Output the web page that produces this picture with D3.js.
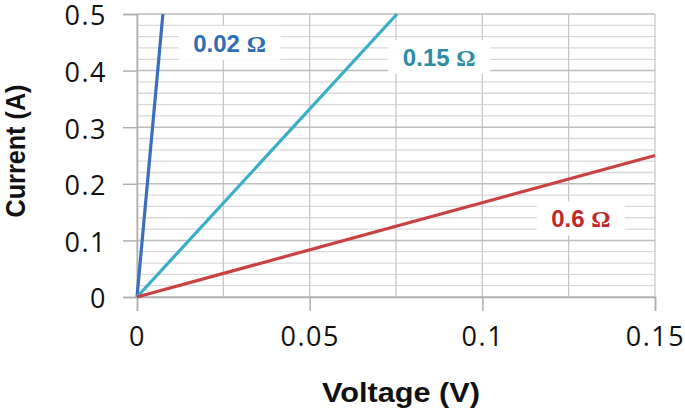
<!DOCTYPE html>
<html><head><meta charset="utf-8">
<script src="https://cdn.jsdelivr.net/npm/d3@7"></script>
<style>html,body{margin:0;padding:0;background:#fff;}svg{display:block;}</style>
</head><body>
<svg id="c" width="685" height="413"></svg>
<script>
const xTicks = [0, 0.05, 0.1, 0.15];
const xGrid = [0, 0.025, 0.05, 0.075, 0.1, 0.125, 0.15];
const yTicks = [0, 0.1, 0.2, 0.3, 0.4, 0.5];
const yMinor = [0.02,0.04,0.06,0.08,0.12,0.14,0.16,0.18,0.22,0.24,0.26,0.28,0.32,0.34,0.36,0.38,0.42,0.44,0.46,0.48];
const seriesNames = ["0.02 Ω", "0.15 Ω", "0.6 Ω"];
const voltage02 = [0, 0.0075];
const current02 = [0, 0.5];
const voltage15 = [0, 0.0753];
const current15 = [0, 0.5];
const voltage60 = [0, 0.15];
const current60 = [0, 0.25];
const labelPos = [[0.0268, 0.449], [0.0875, 0.424], [0.1285, 0.139]];
const colors = ["#3b6fbb", "#3aaec6", "#c94241"];
const labelColors = ["#2f6db4", "#2d8ea3", "#c0282a"];

const svg = d3.select("#c");
const x = d3.scaleLinear().domain([0, 0.15]).range([137, 655]);
const y = d3.scaleLinear().domain([0, 0.5]).range([297, 14]);
const tickFont = "'Open Sans', Lato, sans-serif";

// minor horizontal grid
svg.append("g").selectAll("line").data(yMinor).join("line")
  .attr("x1", x(0)).attr("x2", x(0.15))
  .attr("y1", d => y(d)).attr("y2", d => y(d))
  .attr("stroke", "#d9d9d9").attr("stroke-width", 1.3);
// vertical grid
svg.append("g").selectAll("line").data(xGrid).join("line")
  .attr("x1", d => x(d)).attr("x2", d => x(d))
  .attr("y1", y(0.5)).attr("y2", y(0))
  .attr("stroke", "#c8c8c8").attr("stroke-width", 1.3);
// major horizontal grid
svg.append("g").selectAll("line").data(yTicks).join("line")
  .attr("x1", x(0)).attr("x2", x(0.15))
  .attr("y1", d => y(d)).attr("y2", d => y(d))
  .attr("stroke", "#bdbdbd").attr("stroke-width", 1.5);

// axes
const xAxis = d3.axisBottom(x).tickValues(xTicks).tickSize(14).tickPadding(16).tickFormat(d => d3.format("")(d));
const gx = svg.append("g").attr("transform", `translate(0,${y(0)})`).call(xAxis);
gx.select(".domain").attr("stroke", "#b0b0b0").attr("stroke-width", 1.5);
gx.selectAll(".tick line").attr("stroke", "#b0b0b0").attr("stroke-width", 1.5);
gx.selectAll(".tick text").attr("font-family", tickFont).attr("font-size", 27).attr("fill", "#111").attr("letter-spacing", 1.5);

const yAxis = d3.axisLeft(y).tickValues(yTicks).tickSize(14).tickPadding(16).tickFormat(d => d3.format("")(d));
const gy = svg.append("g").attr("transform", `translate(${x(0)},0)`).call(yAxis);
gy.select(".domain").attr("stroke", "#b0b0b0").attr("stroke-width", 1.5);
gy.selectAll(".tick line").attr("stroke", "#b0b0b0").attr("stroke-width", 1.5);
gy.selectAll(".tick text").attr("font-family", tickFont).attr("font-size", 27).attr("fill", "#111").attr("letter-spacing", 1.5).attr("dy", "0.4em");

// lines
const series = [
  d3.zip(voltage02, current02),
  d3.zip(voltage15, current15),
  d3.zip(voltage60, current60)
];
const line = d3.line().x(d => x(d[0])).y(d => y(d[1]));
svg.append("g").selectAll("path").data(series).join("path")
  .attr("d", line).attr("fill", "none")
  .attr("stroke", (d, i) => colors[i]).attr("stroke-width", 3.2);

// labels with white boxes
const lab = svg.append("g").selectAll("g").data(seriesNames).join("g")
  .attr("transform", (d, i) => `translate(${x(labelPos[i][0])},${y(labelPos[i][1])})`);
lab.append("rect").attr("fill", "#fff")
  .attr("x", (d, i) => i === 2 ? -44 : -51).attr("y", -17)
  .attr("width", (d, i) => i === 2 ? 88 : 102).attr("height", 34);
const t = lab.append("text").attr("text-anchor", "middle").attr("dy", "0.36em")
  .attr("font-family", "'Liberation Sans', Arial, sans-serif").attr("font-weight", "bold")
  .attr("font-size", 24).attr("fill", (d, i) => labelColors[i]);
t.append("tspan").text(d => d.split(" ")[0] + " ");
t.append("tspan").attr("font-family", "'Liberation Serif', serif").text("Ω");

// axis titles
svg.append("text").attr("x", 401).attr("y", 402).attr("text-anchor", "middle")
  .attr("font-family", "'Liberation Sans Narrow', 'Liberation Sans', Arial, sans-serif")
  .attr("font-weight", "bold").attr("font-size", 28).attr("fill", "#111")
  .attr("textLength", 158).attr("lengthAdjust", "spacingAndGlyphs")
  .text("Voltage (V)");
svg.append("text").attr("transform", "translate(25,151) rotate(-90)").attr("text-anchor", "middle")
  .attr("font-family", "'Liberation Sans Narrow', 'Liberation Sans', Arial, sans-serif")
  .attr("font-weight", "bold").attr("font-size", 28).attr("fill", "#111")
  .attr("textLength", 133).attr("lengthAdjust", "spacingAndGlyphs")
  .text("Current (A)");
</script>
</body></html>
